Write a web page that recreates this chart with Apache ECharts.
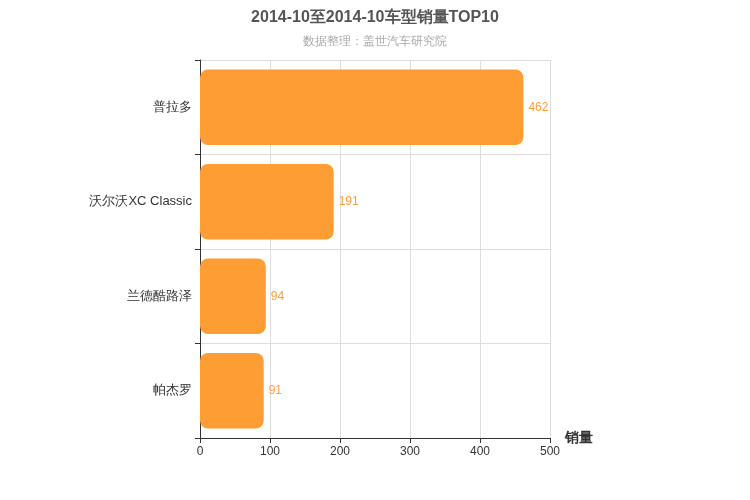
<!DOCTYPE html>
<html><head><meta charset="utf-8">
<script src="https://cdn.jsdelivr.net/npm/echarts@6/dist/echarts.min.js"></script>
<style>html,body{margin:0;padding:0}#c{width:750px;height:500px}</style>
</head><body><div id="c"></div>
<script>
const categories = ['普拉多','沃尔沃XC Classic','兰德酷路泽','帕杰罗'];
const sales = [462,191,94,91];
const xTicks = [0,100,200,300,400,500];
const chart = echarts.init(document.getElementById('c'));
chart.setOption({
  title:{text:'2014-10至2014-10车型销量TOP10',subtext:'数据整理：盖世汽车研究院',left:'center',top:5,
    textStyle:{fontSize:16,fontWeight:'bold',color:'#555'},subtextStyle:{fontSize:12,color:'#aaa'},itemGap:10},
  grid:{left:200,right:200,top:60,bottom:62},
  xAxis:{type:'value',min:xTicks[0],max:xTicks[xTicks.length-1],interval:100,name:'销量',
    nameTextStyle:{fontSize:14,fontWeight:'bold',color:'#333',padding:[30,0,0,0]},
    axisLine:{show:true,lineStyle:{color:'#333'}},axisTick:{show:true},
    axisLabel:{color:'#333'},splitLine:{lineStyle:{color:'#ddd'}}},
  yAxis:{type:'category',data:categories,inverse:true,
    axisLine:{lineStyle:{color:'#333'}},axisTick:{show:true},
    axisLabel:{color:'#333',fontSize:13},splitLine:{show:true,lineStyle:{color:'#ddd'}}},
  series:[{type:'bar',data:sales,barWidth:'80%',
    itemStyle:{color:'#ff9d35',borderRadius:8},
    label:{show:true,position:'right',color:'#ff9d35',fontSize:12}}]
});
</script></body></html>
